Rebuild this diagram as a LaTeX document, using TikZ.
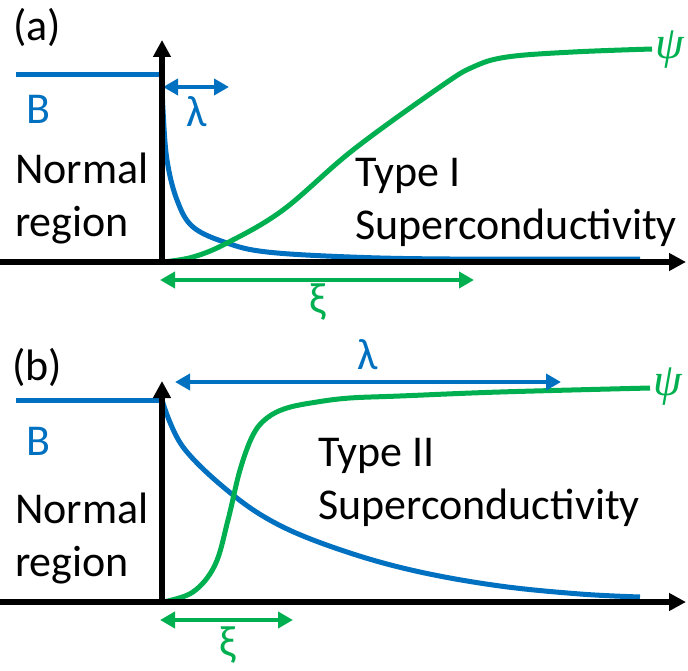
\documentclass[tikz,border=0pt]{standalone}
\usepackage{fontspec}
\setmainfont{Carlito}
\newfontfamily\greekserif{Liberation Serif}
\usetikzlibrary{arrows.meta}
\definecolor{fieldblue}{HTML}{0070C0}
\definecolor{ordergreen}{HTML}{00B050}

\begin{document}
\begin{tikzpicture}[x=1pt, y=-1pt,
axis/.style={line width=5.5pt, -{Triangle[length=17pt, width=17pt]}},
field/.style={fieldblue, line width=5pt},
order/.style={ordergreen, line width=5pt},
span/.style={line width=4.5pt, {Triangle[length=15pt, width=16pt]}-{Triangle[length=15pt, width=16pt]}},
lbl/.style={font=\fontsize{44}{53}\selectfont, inner sep=0pt, align=left},
wave/.style={font=\fontsize{46}{50}\selectfont\greekserif\itshape, inner sep=0pt, ordergreen}
]
\useasboundingbox (0,0) rectangle (688,671);

% panel (a): type I
\coordinate (oa) at (162,262);
\node[lbl] (taga) at (37,27) {(a)};
\node[lbl, fieldblue] (Ba) at (38,109) {B};
\node[lbl, anchor=west] (norma) at (15,199) {Normal\\region};
\node[lbl, anchor=north west] (typea) at (355,158) {Type I\\Superconductivity};
\draw[field] (16,75) -- (162,75);
\draw[field] plot[smooth, tension=0.6] coordinates {(162,75) (163,110) (167,160) (177,200) (193,227) (227,243) (267,252) (350,257) (450,259) (640,259)};
\draw[order] plot[smooth, tension=0.6] coordinates {(163,262) (193,257) (227,243) (283,210) (353,150) (440,87) (473,67) (507,57) (573,52) (652,49)};
\node[wave] (psia) at (670,50) {ψ};
\coordinate (lama0) at (163,87);
\coordinate (lama1) at (229,87);
\draw[span, fieldblue] (lama0) -- (lama1);
\node[lbl, fieldblue] (lama) at (197,112) {λ};
\coordinate (xia0) at (160,280);
\coordinate (xia1) at (474,280);
\draw[span, ordergreen] (xia0) -- (xia1);
\node[lbl, ordergreen] (xia) at (318,302) {ξ};
\draw[axis] (0,262) -- (686,262);
\draw[axis] (oa) -- (162,40);

% panel (b): type II
\coordinate (ob) at (162,602);
\node[lbl] (tagb) at (37,367) {(b)};
\node[lbl, fieldblue] (Bb) at (38,441) {B};
\node[lbl, anchor=west] (normb) at (15,539) {Normal\\region};
\node[lbl, anchor=north west] (typeb) at (318,438) {Type II\\Superconductivity};
\draw[field] (16,400) -- (162,400);
\draw[field] plot[smooth, tension=0.6] coordinates {(162,400) (183,447) (233,495) (283,527) (350,553) (420,572) (500,586) (580,594) (640,597)};
\draw[order] plot[smooth, tension=0.6] coordinates {(163,602) (193,592) (215,565) (228,520) (240,470) (253,435) (267,418) (287,408) (317,402) (350,398) (400,396) (500,392) (650,388)};
\node[wave] (psib) at (668,387) {ψ};
\coordinate (lamb0) at (175,382);
\coordinate (lamb1) at (561,382);
\draw[span, fieldblue] (lamb0) -- (lamb1);
\node[lbl, fieldblue] (lamb) at (368,355) {λ};
\coordinate (xib0) at (160,620);
\coordinate (xib1) at (293,620);
\draw[span, ordergreen] (xib0) -- (xib1);
\node[lbl, ordergreen] (xib) at (228,645) {ξ};
\draw[axis] (0,602) -- (686,602);
\draw[axis] (ob) -- (162,381);
\end{tikzpicture}
\end{document}
